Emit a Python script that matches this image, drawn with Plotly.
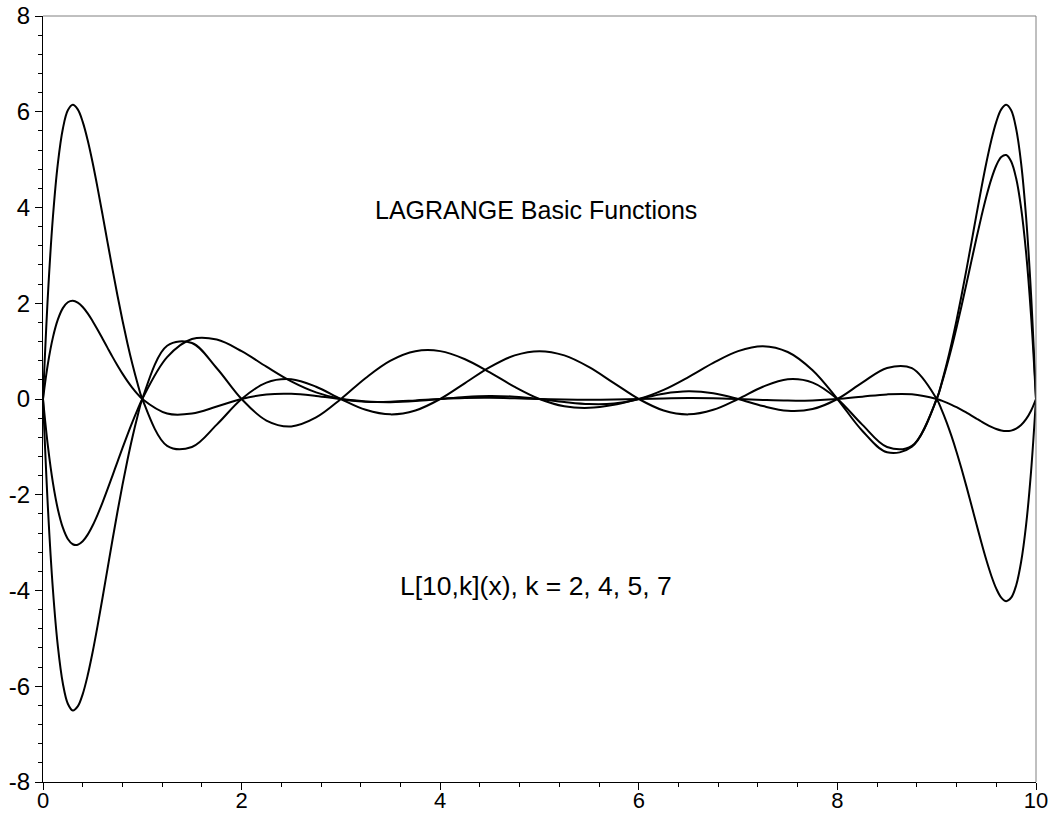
import plotly.graph_objects as go

# Sample positions along x
x_vals = [0, 0.05, 0.1, 0.15, 0.2, 0.25, 0.3, 0.35, 0.4, 0.45, 0.5,
          0.55, 0.6, 0.65, 0.7, 0.75, 0.8, 0.85, 0.9, 0.95,
          1, 1.25, 1.5, 1.75, 2, 2.25, 2.5, 2.75, 3, 3.25, 3.5, 3.75,
          4, 4.25, 4.5, 4.75, 5, 5.25, 5.5, 5.75, 6, 6.25, 6.5, 6.75,
          7, 7.25, 7.5, 7.75, 8, 8.25, 8.5, 8.75,
          9, 9.05, 9.1, 9.15, 9.2, 9.25, 9.3, 9.35, 9.4, 9.45, 9.5,
          9.55, 9.6, 9.65, 9.7, 9.75, 9.8, 9.85, 9.9, 9.95, 10]

# Curve values (k = 2, 4, 5, 7)
L2 = [0, -0.995, -1.753, -2.307, -2.688, -2.923, -3.034, -3.044, -2.972, -2.833, -2.643,
      -2.414, -2.158, -1.883, -1.599, -1.312, -1.027, -0.750, -0.485, -0.234,
      0, 0.874, 1.252, 1.241,
      1, 0.675, 0.368, 0.138,
      0, -0.0566, -0.0573, -0.0306,
      0, 0.0198, 0.0238, 0.0148,
      0, -0.0125, -0.0170, -0.0119,
      0, 0.0126, 0.0191, 0.0149,
      0, -0.0197, -0.0335, -0.0293,
      0, 0.0496, 0.0963, 0.0971,
      0, -0.035, -0.0751, -0.121, -0.171, -0.226, -0.285, -0.346, -0.408, -0.470, -0.529,
      -0.582, -0.626, -0.657, -0.670, -0.660, -0.620, -0.544, -0.422, -0.244, 0]

L4 = [0, -2.292, -3.985, -5.174, -5.943, -6.365, -6.506, -6.422, -6.164, -5.772, -5.286,
      -4.735, -4.147, -3.542, -2.940, -2.355, -1.798, -1.279, -0.803, -0.376,
      0, 1.113, 1.169, 0.643,
      0, -0.450, -0.573, -0.386,
      0, 0.440, 0.802, 0.998,
      1, 0.831, 0.555, 0.253,
      0, -0.152, -0.185, -0.119,
      0, 0.111, 0.160, 0.120,
      0, -0.148, -0.246, -0.210,
      0, 0.341, 0.649, 0.644,
      0, -0.227, -0.488, -0.782, -1.106, -1.458, -1.830, -2.218, -2.611, -2.998, -3.364,
      -3.692, -3.962, -4.149, -4.223, -4.151, -3.894, -3.405, -2.634, -1.521, 0]

L5 = [0, 2.194, 3.806, 4.929, 5.646, 6.030, 6.146, 6.049, 5.789, 5.405, 4.934,
      4.405, 3.845, 3.273, 2.707, 2.161, 1.644, 1.165, 0.729, 0.340,
      0, -0.979, -1.002, -0.535,
      0, 0.343, 0.412, 0.257,
      0, -0.226, -0.321, -0.240,
      0, 0.332, 0.666, 0.911,
      1, 0.911, 0.666, 0.332,
      0, -0.240, -0.321, -0.226,
      0, 0.257, 0.412, 0.343,
      0, -0.535, -1.002, -0.979,
      0, 0.340, 0.729, 1.165, 1.644, 2.161, 2.707, 3.273, 3.845, 4.405, 4.934,
      5.405, 5.789, 6.049, 6.146, 6.030, 5.646, 4.929, 3.806, 2.194, 0]

L7 = [0, 0.744, 1.287, 1.662, 1.898, 2.021, 2.053, 2.014, 1.921, 1.788, 1.626,
      1.447, 1.259, 1.068, 0.880, 0.700, 0.530, 0.374, 0.233, 0.108,
      0, -0.304, -0.304, -0.158,
      0, 0.0947, 0.109, 0.0649,
      0, -0.0503, -0.0655, -0.0439,
      0, 0.0432, 0.0634, 0.0482,
      0, -0.0619, -0.1057, -0.095,
      0, 0.190, 0.458, 0.754,
      1, 1.103, 0.982, 0.600,
      0, -0.662, -1.113, -0.999,
      0, 0.320, 0.677, 1.070, 1.494, 1.943, 2.410, 2.885, 3.357, 3.810, 4.229,
      4.592, 4.877, 5.055, 5.095, 4.960, 4.609, 3.994, 3.062, 1.753, 0]

series = {"k=2": L2, "k=4": L4, "k=5": L5, "k=7": L7}

x_ticks = [0, 2, 4, 6, 8, 10]
x_ticklabels = ["0", "2", "4", "6", "8", "10"]
y_ticks = [-8, -6, -4, -2, 0, 2, 4, 6, 8]
y_ticklabels = ["-8", "-6", "-4", "-2", "0", "2", "4", "6", "8"]

title_text = "LAGRANGE Basic Functions"
sub_text = "L[10,k](x), k = 2, 4, 5, 7"

FONT = "Liberation Sans, Arial, Helvetica, sans-serif"

fig = go.Figure()
for name, ys in series.items():
    fig.add_trace(go.Scatter(
        x=x_vals, y=ys, mode="lines", name=name,
        line=dict(color="black", width=2, shape="spline", smoothing=1.0),
        showlegend=False, hoverinfo="skip",
    ))

fig.add_annotation(x=4.96, y=3.95, text=title_text, showarrow=False,
                   font=dict(family=FONT, size=25, color="black"))
fig.add_annotation(x=4.96, y=-3.9, text=sub_text, showarrow=False,
                   font=dict(family=FONT, size=26.5, color="black"))

# gray frame on the top and right
fig.add_shape(type="line", xref="paper", yref="paper", x0=0, x1=1, y0=1, y1=1,
              line=dict(color="#808080", width=1))
fig.add_shape(type="line", xref="paper", yref="paper", x0=1, x1=1, y0=0, y1=1,
              line=dict(color="#808080", width=1))

axis_common = dict(
    showgrid=False, zeroline=False, showline=True, linecolor="black", linewidth=1,
    ticks="outside", ticklen=7, tickwidth=1, tickcolor="black",
    minor=dict(dtick=0.4, tick0=0, ticks="outside", ticklen=4, tickcolor="black", showgrid=False),
    automargin=False,
)
fig.update_xaxes(range=[0, 10], tickvals=x_ticks, ticktext=x_ticklabels,
                 ticklabelstandoff=-8,
                 tickfont=dict(family=FONT, size=22, color="black"), **axis_common)
fig.update_yaxes(range=[-8, 8], tickvals=y_ticks, ticktext=y_ticklabels,
                 tickfont=dict(family=FONT, size=24, color="black"), **axis_common)

fig.update_layout(
    width=1056, height=816,
    margin=dict(l=43, r=20, t=16, b=34),
    paper_bgcolor="white", plot_bgcolor="white",
    font=dict(family=FONT, color="black"),
)

# remove the page's default body margin so the figure sits at the window's corner
fig.write_html(
    "out.html",
    config={"displayModeBar": False},
    post_script="document.body.style.margin='0';document.body.style.overflow='hidden';",
)
